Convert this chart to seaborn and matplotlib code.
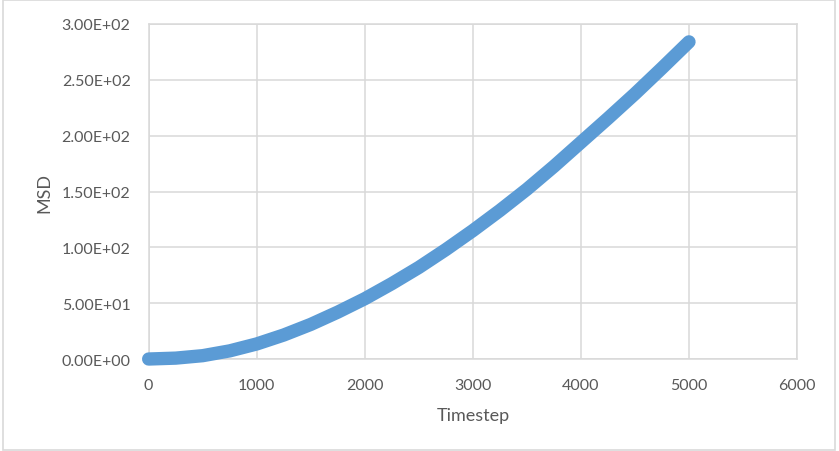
import matplotlib
matplotlib.use("Agg")
import matplotlib.pyplot as plt
import seaborn as sns
import pandas as pd
from matplotlib.ticker import FuncFormatter, MultipleLocator
from matplotlib.patches import Rectangle

# MSD every 250 timesteps
timestep = [0, 250, 500, 750, 1000, 1250, 1500, 1750, 2000, 2250, 2500,
            2750, 3000, 3250, 3500, 3750, 4000, 4250, 4500, 4750, 5000]
msd = [0.0, 0.8, 3.0, 7.3, 13.5, 21.5, 31.0, 42.0, 54.0, 67.5, 82.0,
       98.0, 115.0, 133.0, 152.0, 172.5, 194.0, 215.5, 237.5, 260.5, 284.0]

df = pd.DataFrame({'Timestep': timestep, 'MSD': msd})

sns.set_style('white')
plt.rcParams['font.family'] = ['Lato', 'DejaVu Sans']

fig = plt.figure(figsize=(8.39, 4.52), dpi=100)
ax = fig.add_axes([0.1772, 0.2035, 0.7728, 0.7412])

grid_col = '#d9d9d9'
text_col = '#595959'
blue = '#5b9bd5'

sns.lineplot(data=df, x='Timestep', y='MSD', ax=ax, color=blue,
             linewidth=9.6, solid_capstyle='round', zorder=3, clip_on=False)

ax.set_xlim(0, 6000)
ax.set_ylim(0, 300)
ax.xaxis.set_major_locator(MultipleLocator(1000))
ax.yaxis.set_major_locator(MultipleLocator(50))
ax.yaxis.set_major_formatter(FuncFormatter(lambda v, p: f'{v:.2E}'))

ax.grid(True, color=grid_col, linewidth=1.1)
ax.set_axisbelow(True)
for s in ax.spines.values():
    s.set_color(grid_col)
    s.set_linewidth(1.1)

ax.tick_params(axis='both', length=0, labelsize=11.5, labelcolor=text_col)
ax.tick_params(axis='y', pad=13)
ax.tick_params(axis='x', pad=13.5)

ax.set_xlabel('Timestep', fontsize=13, color=text_col, labelpad=11)
ax.set_ylabel('MSD', fontsize=13, color=text_col, labelpad=7)

# light chart-area border
fig.patches.append(Rectangle((0.003, 0.003), 0.992, 0.994, transform=fig.transFigure,
                             fill=False, edgecolor=grid_col, linewidth=1.2))

fig.savefig('out.png', dpi=100, facecolor='white')
plt.close(fig)
